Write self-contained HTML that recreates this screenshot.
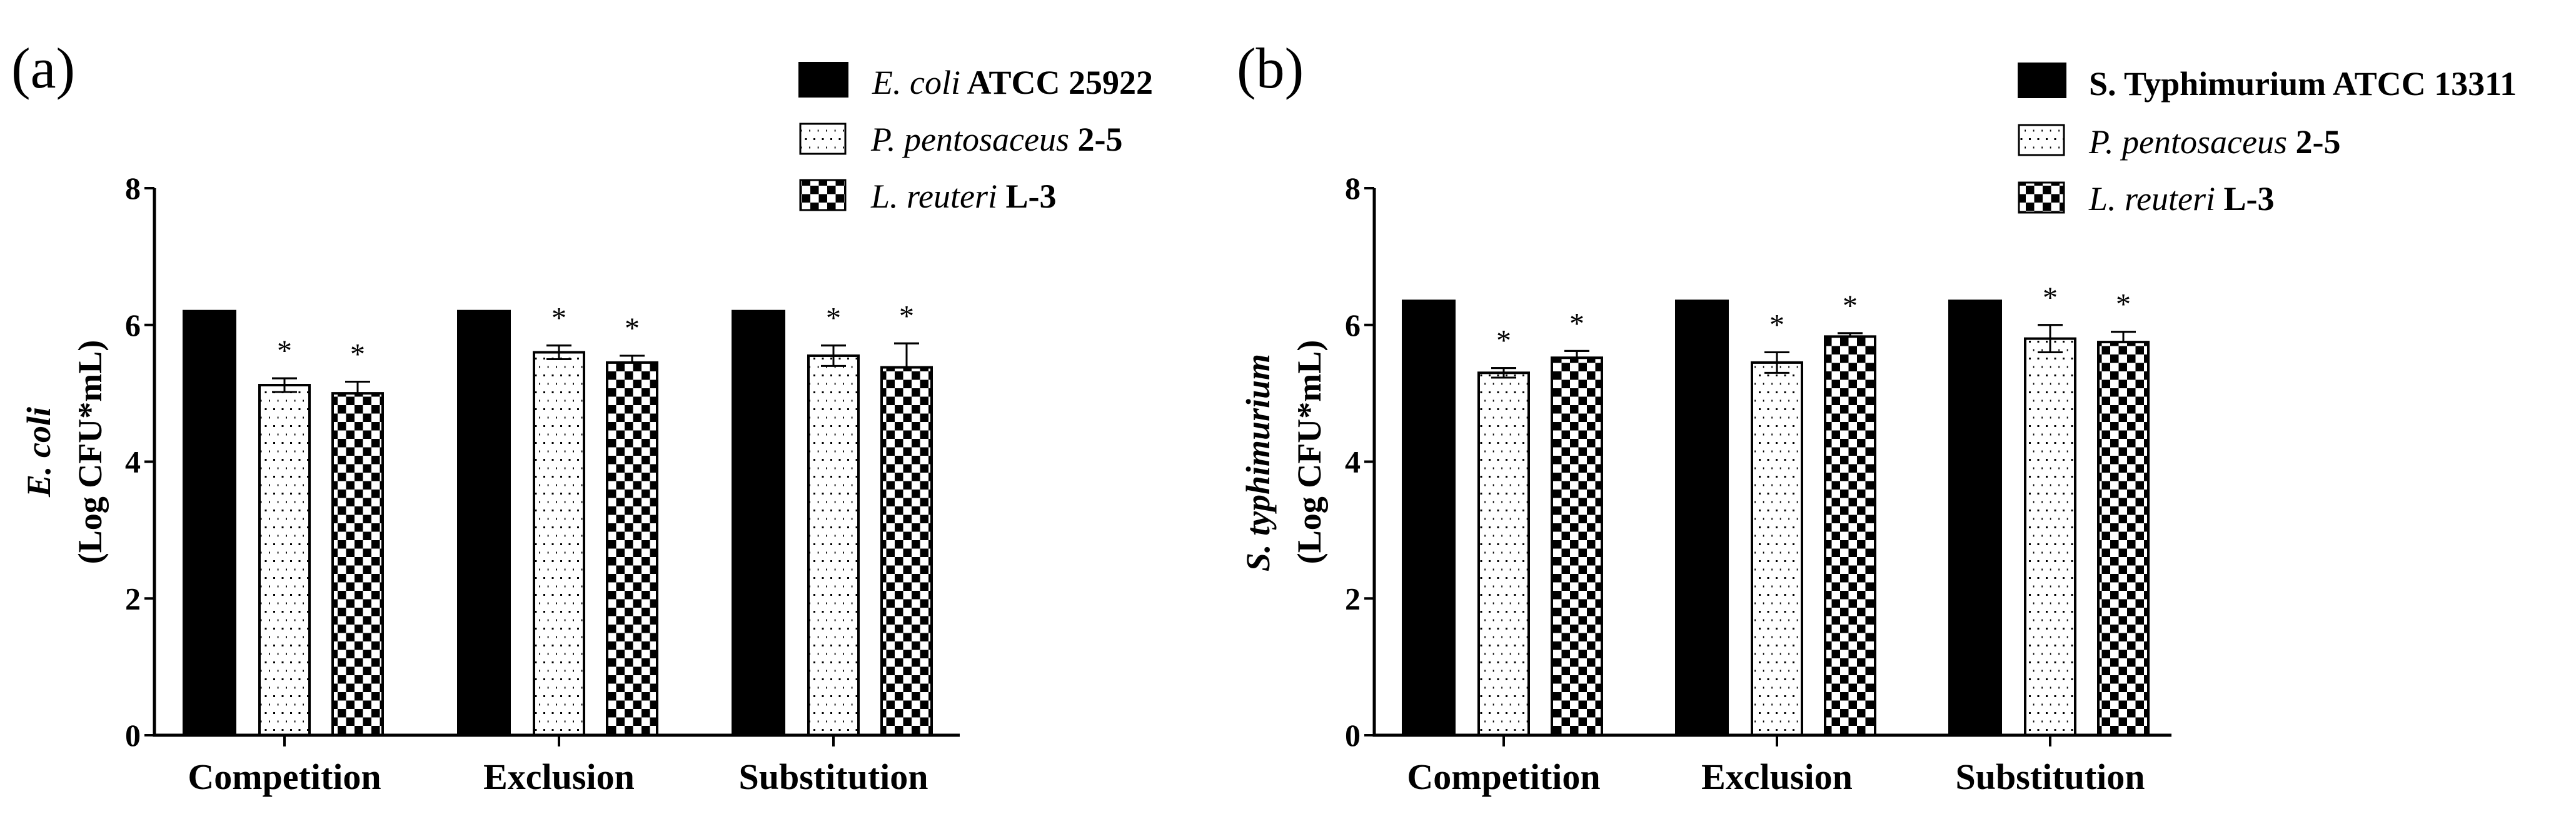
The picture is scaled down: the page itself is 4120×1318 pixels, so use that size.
<!DOCTYPE html>
<html><head><meta charset="utf-8"><style>body{margin:0;background:#fff}svg{display:block}text{font-family:"Liberation Serif",serif}</style></head>
<body>
<svg id="fig" width="4120" height="1318" viewBox="0 0 4120 1318" xmlns="http://www.w3.org/2000/svg">
<defs>
<pattern id="dots" patternUnits="userSpaceOnUse" width="13.5" height="27"><rect x="5" y="5" width="3" height="3" fill="#000"/><rect x="11.7" y="18.5" width="3" height="3" fill="#000"/></pattern>
<pattern id="check" patternUnits="userSpaceOnUse" width="27" height="27"><rect width="27" height="27" fill="#fff"/><rect width="13.5" height="13.5" fill="#000"/><rect x="13.5" y="13.5" width="13.5" height="13.5" fill="#000"/></pattern>
</defs>
<g id="chartA"></g>
<g id="chartB"></g>
</svg>
<script>
const categories = ["Competition","Exclusion","Substitution"];
const yTicks = [0,2,4,6,8];
const aPathogen = [6.22,6.22,6.22];
const aPento = [5.12,5.6,5.55];
const aPentoErr = [0.1,0.1,0.15];
const aReuteri = [5.0,5.45,5.38];
const aReuteriErr = [0.17,0.1,0.35];
const bPathogen = [6.37,6.37,6.37];
const bPento = [5.3,5.45,5.8];
const bPentoErr = [0.07,0.15,0.2];
const bReuteri = [5.52,5.83,5.75];
const bReuteriErr = [0.1,0.05,0.15];
const NS="http://www.w3.org/2000/svg";
function mk(parent,tag,attrs,txt){const e=document.createElementNS(NS,tag);for(const k in attrs)e.setAttribute(k,attrs[k]);if(txt!==undefined)e.textContent=txt;parent.appendChild(e);return e;}
function panel(g,cfg){
  const y0=1176,y8=301;
  const yS=v=>y0-(y0-y8)*v/8;
  const ax=cfg.axisX;
  const gx=i=>cfg.firstX+i*cfg.groupStep;
  const series=[{v:cfg.path,fill:"#000",w:86,off:0,name:"pathogen"},{v:cfg.pento,e:cfg.pentoErr,fill:"url(#dots)",w:80,off:123,name:"pentosaceus"},{v:cfg.reut,e:cfg.reutErr,fill:"url(#check)",w:80,off:240,name:"reuteri"}];
  series.forEach(s=>{
    s.v.forEach((v,i)=>{
      const x=gx(i)+s.off;
      if(s.e){
        const top=yS(v+s.e[i]),bot=yS(v-s.e[i]),cx=x+s.w/2;
        const eb=mk(g,"path",{d:`M${cx-20},${top}H${cx+20}M${cx},${top}V${bot}M${cx-20},${bot}H${cx+20}`,stroke:"#000","stroke-width":3,fill:"none"});
        
        
      }
      const r=mk(g,"rect",{x:x,y:yS(v),width:s.w,height:y0-yS(v),fill:s.fill,stroke:"#000","stroke-width":s.e?4:0});
      
      
      if(s.e){
        const cx=x+s.w/2;
        mk(g,"path",{d:`M${cx-20},${yS(v+s.e[i])}H${cx+20}M${cx},${yS(v+s.e[i])}V${yS(v)}`,stroke:"#000","stroke-width":3,fill:"none"});
        const st=mk(g,"text",{x:cx,y:yS(v+s.e[i])-28,"font-size":48,"text-anchor":"middle"},"*");
        
        
      }
    });
  });
  const axes=mk(g,"path",{d:`M${ax},${y8}V${y0}H${cfg.axisEnd}`,stroke:"#000","stroke-width":5,fill:"none"});
  
  
  yTicks.forEach(t=>{
    mk(g,"line",{x1:ax-16,x2:ax,y1:yS(t),y2:yS(t),stroke:"#000","stroke-width":4});
    const tl=mk(g,"text",{x:ax-22,y:yS(t)+17,"font-size":50,"font-weight":"bold","text-anchor":"end"},String(t));
    
    
  });
  categories.forEach((c,i)=>{
    const cx=gx(i)+163;
    mk(g,"line",{x1:cx,x2:cx,y1:y0,y2:y0+18,stroke:"#000","stroke-width":4});
    const cl=mk(g,"text",{x:cx,y:1262,"font-size":58,"font-weight":"bold","text-anchor":"middle"},c);
    
    
  });
}
const gA=document.getElementById('chartA'), gB=document.getElementById('chartB');
panel(gA,{axisX:247,axisEnd:1535,firstX:292,groupStep:439,path:aPathogen,pento:aPento,pentoErr:aPentoErr,reut:aReuteri,reutErr:aReuteriErr});
panel(gB,{axisX:2198,axisEnd:3473,firstX:2242,groupStep:437,path:bPathogen,pento:bPento,pentoErr:bPentoErr,reut:bReuteri,reutErr:bReuteriErr});
</script>
<svg style="position:absolute;left:0;top:0" width="4120" height="1318">
<text x="18" y="140" font-size="92" font-family="Liberation Serif">(a)</text>
<text x="1978" y="140" font-size="92" font-family="Liberation Serif">(b)</text>
<g font-family="Liberation Serif" font-weight="bold" font-size="54">
<text transform="translate(80,723) rotate(-90)" text-anchor="middle" font-style="italic">E. coli</text>
<text transform="translate(162,723) rotate(-90)" text-anchor="middle">(Log CFU*mL)</text>
</g>
<g font-family="Liberation Serif" font-weight="bold" font-size="54">
<text transform="translate(2030,740) rotate(-90)" text-anchor="middle" font-style="italic">S. typhimurium</text>
<text transform="translate(2112,723) rotate(-90)" text-anchor="middle">(Log CFU*mL)</text>
</g>
<g font-family="Liberation Serif" font-size="54">
<rect x="1277" y="99" width="80" height="57" fill="#000"/>
<text x="1395" y="150"><tspan font-style="italic">E. coli</tspan><tspan font-weight="bold"> ATCC 25922</tspan></text>
<rect x="1280" y="198" width="72" height="48" fill="url(#dots)" stroke="#000" stroke-width="3"/>
<text x="1393" y="241"><tspan font-style="italic">P. pentosaceus</tspan><tspan font-weight="bold"> 2-5</tspan></text>
<rect x="1280" y="288" width="72" height="48" fill="url(#check)" stroke="#000" stroke-width="3"/>
<text x="1393" y="332"><tspan font-style="italic">L. reuteri</tspan><tspan font-weight="bold">  L-3</tspan></text>
</g>
<g font-family="Liberation Serif" font-size="54">
<rect x="3227" y="100" width="78" height="57" fill="#000"/>
<text x="3341" y="152" font-weight="bold">S. Typhimurium ATCC 13311</text>
<rect x="3229" y="200" width="72" height="48" fill="url(#dots)" stroke="#000" stroke-width="3"/>
<text x="3341" y="245"><tspan font-style="italic">P. pentosaceus</tspan><tspan font-weight="bold"> 2-5</tspan></text>
<rect x="3229" y="292" width="72" height="48" fill="url(#check)" stroke="#000" stroke-width="3"/>
<text x="3341" y="336"><tspan font-style="italic">L. reuteri</tspan><tspan font-weight="bold">  L-3</tspan></text>
</g>
</svg>
</body></html>
